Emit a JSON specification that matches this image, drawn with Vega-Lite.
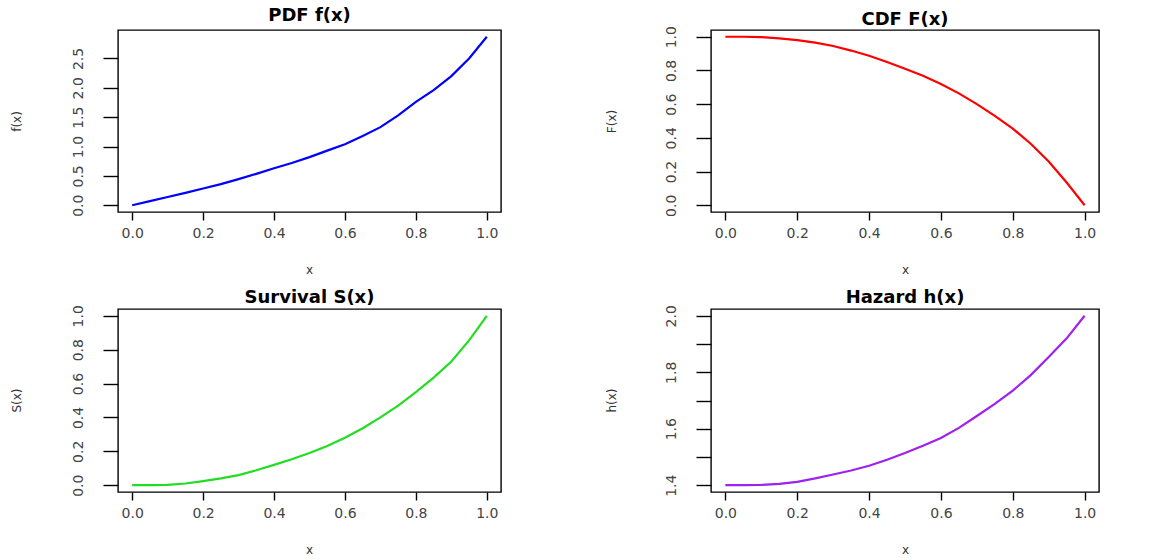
{
  "$schema": "https://vega.github.io/schema/vega-lite/v6.json",
  "background": "white",
  "padding": {"left": 9, "top": 6, "right": 5, "bottom": 5},
  "datasets": {
    "curves": [
      {"x": 0.00, "f": 0.00, "F": 1.000, "S": 0.000, "h": 1.400},
      {"x": 0.05, "f": 0.07, "F": 1.000, "S": 0.000, "h": 1.400},
      {"x": 0.10, "f": 0.14, "F": 0.998, "S": 0.002, "h": 1.401},
      {"x": 0.15, "f": 0.21, "F": 0.990, "S": 0.010, "h": 1.405},
      {"x": 0.20, "f": 0.285, "F": 0.980, "S": 0.024, "h": 1.412},
      {"x": 0.25, "f": 0.36, "F": 0.965, "S": 0.040, "h": 1.424},
      {"x": 0.30, "f": 0.445, "F": 0.945, "S": 0.060, "h": 1.438},
      {"x": 0.35, "f": 0.535, "F": 0.918, "S": 0.088, "h": 1.452},
      {"x": 0.40, "f": 0.63, "F": 0.887, "S": 0.120, "h": 1.469},
      {"x": 0.45, "f": 0.72, "F": 0.850, "S": 0.153, "h": 1.490},
      {"x": 0.50, "f": 0.82, "F": 0.810, "S": 0.190, "h": 1.514},
      {"x": 0.55, "f": 0.93, "F": 0.768, "S": 0.232, "h": 1.540},
      {"x": 0.60, "f": 1.04, "F": 0.720, "S": 0.280, "h": 1.567},
      {"x": 0.65, "f": 1.18, "F": 0.664, "S": 0.336, "h": 1.603},
      {"x": 0.70, "f": 1.33, "F": 0.600, "S": 0.400, "h": 1.645},
      {"x": 0.75, "f": 1.53, "F": 0.530, "S": 0.470, "h": 1.688},
      {"x": 0.80, "f": 1.76, "F": 0.455, "S": 0.550, "h": 1.735},
      {"x": 0.85, "f": 1.96, "F": 0.365, "S": 0.635, "h": 1.790},
      {"x": 0.90, "f": 2.20, "F": 0.260, "S": 0.730, "h": 1.854},
      {"x": 0.95, "f": 2.50, "F": 0.135, "S": 0.855, "h": 1.920},
      {"x": 1.00, "f": 2.87, "F": 0.000, "S": 1.000, "h": 2.000}
    ]
  },
  "config": {
    "view": {"stroke": "black", "strokeWidth": 1.4},
    "axis": {
      "domain": false, "grid": false,
      "tickColor": "black", "tickWidth": 1.4,
      "labelFont": "DejaVu Sans", "labelFontSize": 14, "labelColor": "#444",
      "titleFont": "DejaVu Sans", "titleFontSize": 12, "titleFontWeight": "normal", "titleColor": "#333"
    },
    "axisX": {"tickSize": 8, "labelPadding": 13, "labelBaseline": "middle", "labelFlush": false, "labelOverlap": false},
    "axisY": {"tickSize": 15, "labelAngle": -90, "labelAlign": "center", "labelBaseline": "middle", "labelPadding": 25, "labelOverlap": false},
    "title": {"font": "DejaVu Sans", "fontSize": 18, "fontWeight": "bold", "color": "black", "offset": 5, "frame": "group", "anchor": "middle"},
    "line": {"strokeWidth": 2.2}
  },
  "columns": 2,
  "spacing": {"row": 97, "column": 210},
  "bounds": "flush",
  "concat": [
    {
      "title": {"text": "PDF f(x)", "offset": 5},
      "width": 383, "height": 182,
      "data": {"name": "curves"},
      "mark": {"type": "line", "color": "#0000FF"},
      "encoding": {
        "x": {"field": "x", "type": "quantitative", "scale": {"domain": [-0.04, 1.04], "nice": false, "zero": false},
              "axis": {"values": [0, 0.2, 0.4, 0.6, 0.8, 1.0], "format": ".1f", "title": "x", "titleX": 191, "titleY": 52}},
        "y": {"field": "f", "type": "quantitative", "scale": {"domain": [-0.115, 2.985], "nice": false, "zero": false},
              "axis": {"values": [0, 0.5, 1.0, 1.5, 2.0, 2.5], "format": ".1f", "title": "f(x)", "titleX": -102, "titleY": 91, "titleAngle": -90, "titleAlign": "center", "titleBaseline": "middle"}}
      }
    },
    {
      "title": {"text": "CDF F(x)", "offset": -3},
      "width": 388, "height": 182,
      "data": {"name": "curves"},
      "mark": {"type": "line", "color": "#FF0000"},
      "encoding": {
        "x": {"field": "x", "type": "quantitative", "scale": {"domain": [-0.04, 1.04], "nice": false, "zero": false},
              "axis": {"values": [0, 0.2, 0.4, 0.6, 0.8, 1.0], "format": ".1f", "title": "x", "titleX": 194, "titleY": 52}},
        "y": {"field": "F", "type": "quantitative", "scale": {"domain": [-0.04, 1.04], "nice": false, "zero": false},
              "axis": {"values": [0, 0.2, 0.4, 0.6, 0.8, 1.0], "format": ".1f", "title": "F(x)", "titleX": -100, "titleY": 91, "titleAngle": -90, "titleAlign": "center", "titleBaseline": "middle"}}
      }
    },
    {
      "title": {"text": "Survival S(x)", "offset": -2},
      "width": 383, "height": 183,
      "data": {"name": "curves"},
      "mark": {"type": "line", "color": "#22DD22"},
      "encoding": {
        "x": {"field": "x", "type": "quantitative", "scale": {"domain": [-0.04, 1.04], "nice": false, "zero": false},
              "axis": {"values": [0, 0.2, 0.4, 0.6, 0.8, 1.0], "format": ".1f", "title": "x", "titleX": 191, "titleY": 52}},
        "y": {"field": "S", "type": "quantitative", "scale": {"domain": [-0.04, 1.04], "nice": false, "zero": false},
              "axis": {"values": [0, 0.2, 0.4, 0.6, 0.8, 1.0], "format": ".1f", "title": "S(x)", "titleX": -102, "titleY": 91, "titleAngle": -90, "titleAlign": "center", "titleBaseline": "middle"}}
      }
    },
    {
      "title": {"text": "Hazard h(x)", "offset": -2},
      "width": 388, "height": 183,
      "data": {"name": "curves"},
      "mark": {"type": "line", "color": "#A020F0"},
      "encoding": {
        "x": {"field": "x", "type": "quantitative", "scale": {"domain": [-0.04, 1.04], "nice": false, "zero": false},
              "axis": {"values": [0, 0.2, 0.4, 0.6, 0.8, 1.0], "format": ".1f", "title": "x", "titleX": 194, "titleY": 52}},
        "y": {"field": "h", "type": "quantitative", "scale": {"domain": [1.376, 2.024], "nice": false, "zero": false},
              "axis": {"values": [1.4, 1.5, 1.6, 1.7, 1.8, 1.9, 2.0], "labelExpr": "round(datum.value * 10) % 2 == 0 ? format(datum.value, '.1f') : ''", "title": "h(x)", "titleX": -100, "titleY": 91, "titleAngle": -90, "titleAlign": "center", "titleBaseline": "middle"}}
      }
    }
  ]
}
